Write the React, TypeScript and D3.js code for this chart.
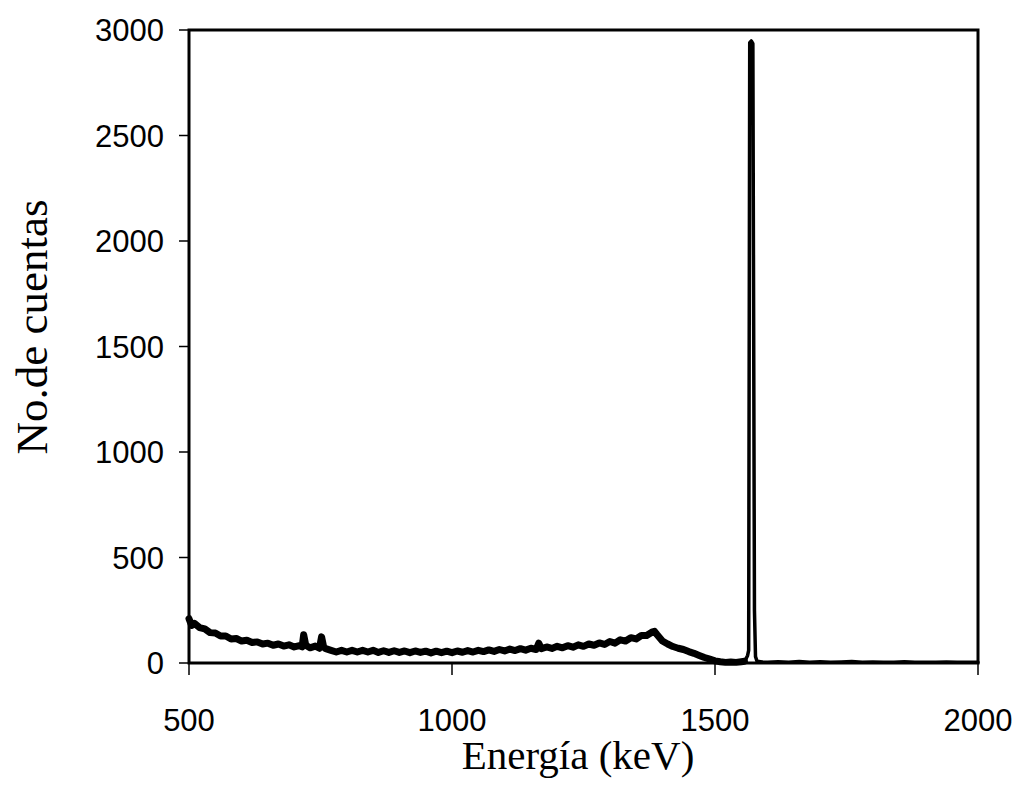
import React from "react";
import * as d3 from "d3";

// Spectrum: [energy keV, counts]
const continuum: [number, number][] = [
  [500, 210], [505, 178], [510, 188], [520, 168], [530, 162], [540, 144], [550, 142], [560, 128],
  [570, 128], [580, 114], [590, 116], [600, 104], [610, 108], [620, 97], [630, 100],
  [640, 90], [650, 94], [660, 84], [670, 90], [680, 80], [690, 86], [700, 76], [710, 82],
  [715, 76], [718, 134], [722, 84], [730, 72], [740, 80], [748, 70], [752, 124], [756, 76],
  [760, 68], [770, 60], [780, 52], [790, 60], [800, 52], [810, 60], [820, 52], [830, 60],
  [840, 52], [850, 60], [860, 50], [870, 58], [880, 50], [890, 58], [900, 50], [910, 57],
  [920, 49], [930, 57], [940, 50], [950, 56], [960, 48], [970, 56], [980, 49], [990, 56],
  [1000, 49], [1010, 57], [1020, 51], [1030, 59], [1040, 52], [1050, 60], [1060, 54],
  [1070, 62], [1080, 55], [1090, 64], [1100, 57], [1110, 66], [1120, 59], [1130, 68],
  [1140, 61], [1150, 70], [1160, 64], [1165, 94], [1170, 68], [1180, 76], [1190, 69],
  [1200, 79], [1210, 72], [1220, 82], [1230, 75], [1240, 86], [1250, 79], [1260, 90],
  [1270, 84], [1280, 95], [1290, 88], [1300, 102], [1310, 94], [1320, 110], [1330, 104],
  [1340, 120], [1350, 114], [1360, 130], [1370, 130], [1380, 146], [1385, 150], [1390, 134],
  [1400, 104], [1410, 90], [1420, 78], [1430, 70], [1440, 64], [1450, 54], [1460, 46],
  [1470, 36], [1480, 26], [1490, 18], [1500, 10], [1510, 6], [1520, 3], [1530, 5],
  [1540, 3], [1550, 6], [1556, 8],
];

const photopeak: [number, number][] = [
  [1556, 8], [1559, 20], [1562, 36], [1564, 60], [1566, 2940], [1569, 2948], [1572, 2935],
  [1575, 250], [1577, 30], [1580, 8], [1590, 5],
];

const tail: [number, number][] = [
  [1600, 4], [1620, 6], [1640, 3], [1660, 7], [1680, 4], [1700, 6], [1720, 3], [1740, 5],
  [1760, 7], [1780, 4], [1800, 5], [1820, 3], [1840, 4], [1860, 6], [1880, 3], [1900, 4],
  [1920, 3], [1940, 5], [1960, 3], [1980, 4], [2000, 3],
];

const xTicks = [500, 1000, 1500, 2000];
const yTicks = [0, 500, 1000, 1500, 2000, 2500, 3000];

const xTitle = "Energía (keV)";
const yTitle = "No.de cuentas";

const W = 1017;
const H = 789;
const left = 189;
const right = 978;
const top = 30;
const bottom = 663;

export default function App() {
  const x = d3.scaleLinear().domain([500, 2000]).range([left, right]);
  const y = d3.scaleLinear().domain([0, 3000]).range([bottom, top]);
  const line = d3
    .line<[number, number]>()
    .x((d) => x(d[0]))
    .y((d) => y(d[1]));

  const sans = "'Liberation Sans', Arial, sans-serif";
  const serif = "'Liberation Serif', 'Times New Roman', serif";

  return (
    <svg
      width={W}
      height={H}
      style={{ position: "absolute", left: 0, top: 0, background: "#fff" }}
    >
      <rect x={0} y={0} width={W} height={H} fill="#fff" />
      <path
        d={line(continuum) || ""}
        fill="none"
        stroke="#000"
        strokeWidth={7}
        strokeLinejoin="round"
        strokeLinecap="round"
      />
      <path
        d={line([...photopeak, ...tail]) || ""}
        fill="none"
        stroke="#000"
        strokeWidth={3.5}
        strokeLinejoin="round"
        strokeLinecap="round"
      />
      <rect
        x={left}
        y={top}
        width={right - left}
        height={bottom - top}
        fill="none"
        stroke="#000"
        strokeWidth={3}
      />
      {yTicks.map((t) => (
        <g key={"y" + t}>
          <line x1={left - 10} x2={left} y1={y(t)} y2={y(t)} stroke="#000" strokeWidth={1.5} />
          <text
            x={164}
            y={y(t) + 11}
            textAnchor="end"
            fontFamily={sans}
            fontSize={31}
            fill="#000"
          >
            {t}
          </text>
        </g>
      ))}
      {xTicks.map((t) => (
        <g key={"x" + t}>
          <line x1={x(t)} x2={x(t)} y1={bottom} y2={bottom + 12} stroke="#000" strokeWidth={1.5} />
          <text
            x={x(t)}
            y={731}
            textAnchor="middle"
            fontFamily={sans}
            fontSize={31}
            fill="#000"
          >
            {t}
          </text>
        </g>
      ))}
      <text
        x={578}
        y={769}
        textAnchor="middle"
        fontFamily={serif}
        fontSize={41}
        fill="#000"
      >
        {xTitle}
      </text>
      <text
        transform={`translate(47, 327) rotate(-90)`}
        textAnchor="middle"
        fontFamily={serif}
        fontSize={45}
        fill="#000"
      >
        {yTitle}
      </text>
    </svg>
  );
}
